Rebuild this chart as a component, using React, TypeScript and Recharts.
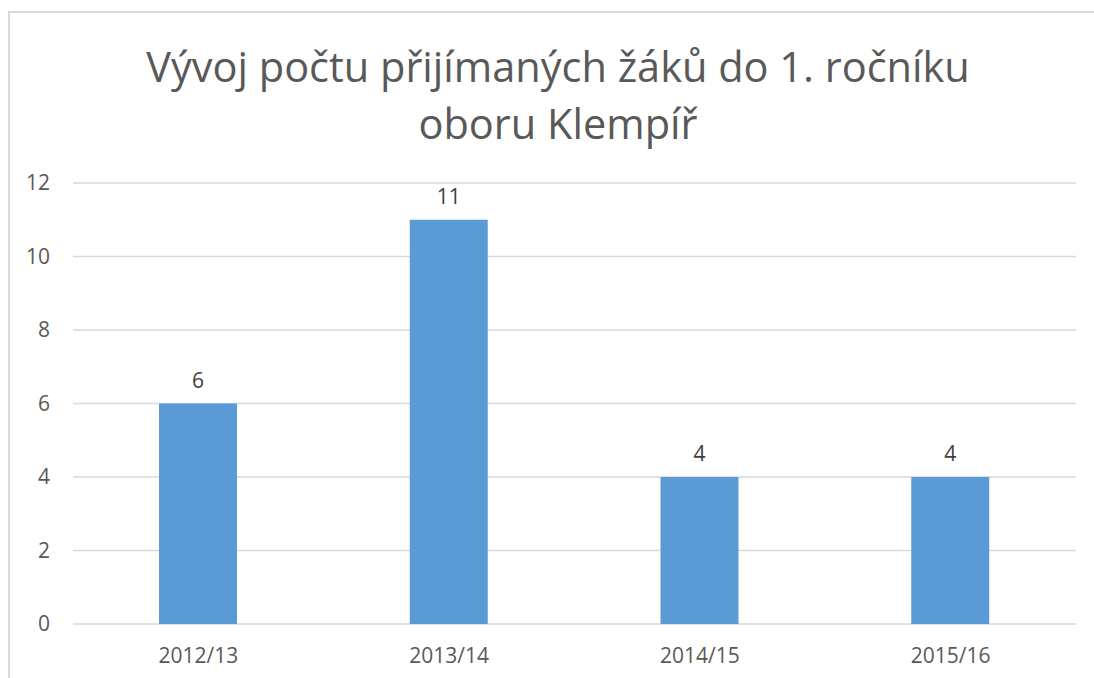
import { BarChart, Bar, XAxis, YAxis, CartesianGrid, LabelList } from "recharts";

const SCHOOL_YEARS = ["2012/13", "2013/14", "2014/15", "2015/16"];
const ADMITTED = [6, 11, 4, 4];
const Y_TICKS = [0, 2, 4, 6, 8, 10, 12];
const TITLE_LINES = ["Vývoj počtu přijímaných žáků do 1. ročníku", "oboru Klempíř"];

const BAR = "#5B9BD5";
const GRID = "#D9D9D9";
const TEXT = "#595959";
const LABEL = "#404040";
const FONT = "'Open Sans', sans-serif";

const data = SCHOOL_YEARS.map((year, i) => ({ year, count: ADMITTED[i] }));

export default function App() {
  return (
    <div
      style={{
        position: "absolute",
        left: 0,
        top: 0,
        width: 1094,
        height: 678,
        overflow: "hidden",
        background: "#fff",
        fontFamily: FONT,
      }}
    >
      <div
        style={{
          position: "absolute",
          left: 8,
          top: 11,
          width: 1200,
          height: 800,
          borderTop: `2px solid ${GRID}`,
          borderLeft: `2px solid ${GRID}`,
        }}
      />
      <div
        style={{
          position: "absolute",
          left: 0,
          top: 38,
          width: 1116,
          textAlign: "center",
          fontSize: 41.5,
          lineHeight: "57px",
          color: TEXT,
        }}
      >
        {TITLE_LINES.map((line) => (
          <div key={line}>{line}</div>
        ))}
      </div>
      <BarChart
        width={1094}
        height={678}
        data={data}
        margin={{ top: 183, right: 18, left: 0, bottom: 24 }}
        style={{ position: "absolute", left: 0, top: 0 }}
      >
        <CartesianGrid stroke={GRID} strokeWidth={1.5} vertical={false} />
        <XAxis
          dataKey="year"
          height={30}
          axisLine={false}
          tickLine={false}
          tickSize={0}
          tickMargin={24}
          tick={{ fontSize: 21, fill: TEXT, fontFamily: FONT }}
        />
        <YAxis
          width={73}
          domain={[0, 12]}
          ticks={Y_TICKS}
          axisLine={false}
          tickLine={false}
          tickSize={0}
          tickMargin={23}
          tick={{ fontSize: 21, fill: TEXT, fontFamily: FONT }}
        />
        <Bar dataKey="count" fill={BAR} barSize={78} isAnimationActive={false}>
          <LabelList
            dataKey="count"
            position="top"
            offset={16}
            style={{ fontSize: 21, fill: LABEL, fontFamily: FONT }}
          />
        </Bar>
      </BarChart>
    </div>
  );
}
